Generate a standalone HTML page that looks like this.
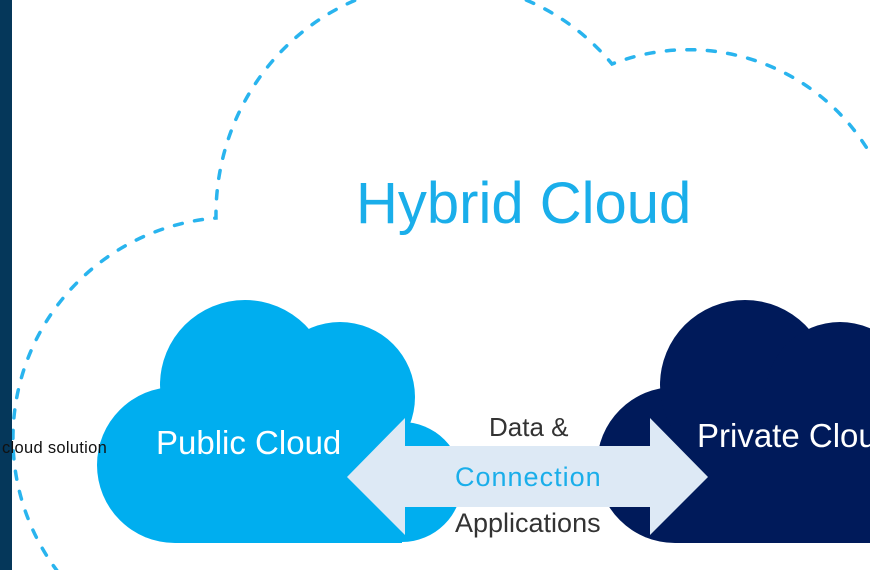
<!DOCTYPE html>
<html>
<head>
<meta charset="utf-8">
<style>
  html, body { margin: 0; padding: 0; background: #ffffff; }
  body { width: 870px; height: 570px; overflow: hidden; position: relative; }
  svg { position: absolute; left: 0; top: 0; overflow: hidden; }
  .t { font-family: "Liberation Sans", Arial, sans-serif; }
</style>
</head>
<body>
<svg width="870" height="570" viewBox="0 0 870 570" xmlns="http://www.w3.org/2000/svg">
  <rect x="0" y="0" width="870" height="570" fill="#ffffff"/>

  <!-- dashed hybrid cloud outline -->
  <path d="M 58 572 A 221 221 0 0 1 216 218 A 225 232 0 0 1 612 64 A 211 211 0 0 1 868 150"
        fill="none" stroke="#29b4ee" stroke-width="3.5" stroke-linecap="round" stroke-dasharray="8 12.5"/>

  <!-- Hybrid Cloud title -->
  <text class="t" x="356" y="223" font-size="58" fill="#1aaeea">Hybrid Cloud</text>

  <!-- Public cloud -->
  <g fill="#00aeef">
    <circle cx="175" cy="465" r="78"/>
    <circle cx="245" cy="385" r="85"/>
    <circle cx="340" cy="397" r="75"/>
    <circle cx="402" cy="482" r="60"/>
    <rect x="175" y="400" width="227" height="143"/>
  </g>
  <text class="t" x="156" y="454" font-size="33" fill="#ffffff">Public Cloud</text>

  <!-- Private cloud -->
  <g fill="#001a5a">
    <circle cx="675" cy="465" r="78"/>
    <circle cx="745" cy="385" r="85"/>
    <circle cx="840" cy="397" r="75"/>
    <rect x="675" y="400" width="195" height="143"/>
  </g>
  <text class="t" x="697" y="447" font-size="33" fill="#ffffff">Private Cloud</text>

  <!-- double arrow -->
  <polygon points="347,477 405,418 405,446 650,446 650,418 708,477 650,535 650,507 405,507 405,535"
           fill="#dde9f5"/>

  <text class="t" x="489" y="436" font-size="26" fill="#333333">Data &amp;</text>
  <text class="t" x="455" y="486" font-size="27" fill="#1aaeea" letter-spacing="1">Connection</text>
  <text class="t" x="455" y="532" font-size="27" fill="#333333">Applications</text>

  <!-- dark left bar -->
  <rect x="0" y="0" width="12" height="570" fill="#05375a"/>

  <text class="t" x="2" y="453" font-size="16.5" fill="#111111" letter-spacing="0.3">cloud solution</text>
</svg>
</body>
</html>
